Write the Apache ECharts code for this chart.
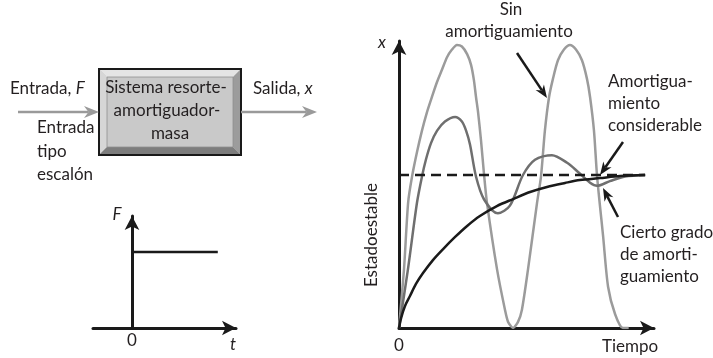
<!DOCTYPE html>
<html>
<head>
<meta charset="utf-8">
<script src="https://cdn.jsdelivr.net/npm/echarts@6/dist/echarts.min.js"></script>
<style>
  html, body { margin: 0; padding: 0; background: #fff; }
  #chart { width: 713px; height: 358px; }
</style>
</head>
<body>
<div id="chart"></div>
<script>
// Respuesta de un sistema resorte-amortiguador-masa a una entrada escalón.
// Unidades: tiempo arbitrario, desplazamiento relativo al estado estable (= 1).

const sinAmortiguamiento = [
  [0, 0], [0.19, 0.38], [0.35, 0.82], [0.50, 0.99], [0.69, 1.15], [0.88, 1.29],
  [1.07, 1.41], [1.26, 1.51], [1.46, 1.61], [1.65, 1.69], [1.84, 1.77], [2.03, 1.82],
  [2.22, 1.85], [2.41, 1.84], [2.61, 1.79], [2.76, 1.72], [2.87, 1.62], [2.95, 1.51],
  [3.03, 1.41], [3.14, 1.23], [3.26, 1.00], [3.37, 0.82], [3.76, 0.38], [4.06, 0.12],
  [4.18, 0.04], [4.37, 0], [4.56, 0.04], [4.71, 0.12], [4.94, 0.38], [5.29, 0.82],
  [5.44, 0.99], [5.59, 1.29], [5.75, 1.51], [5.90, 1.63], [6.09, 1.75], [6.32, 1.82],
  [6.55, 1.85], [6.78, 1.82], [7.01, 1.75], [7.20, 1.63], [7.32, 1.51], [7.47, 1.29],
  [7.59, 0.99], [7.82, 0.60], [8.01, 0.27], [8.28, 0.09], [8.58, 0], [8.80, 0]
];

const ciertoGrado = [
  [0, 0], [0.34, 0.38], [0.69, 0.82], [0.88, 0.99], [1.03, 1.10], [1.23, 1.21],
  [1.46, 1.29], [1.76, 1.35], [2.15, 1.38], [2.41, 1.35], [2.57, 1.29], [2.72, 1.20],
  [2.95, 0.99], [3.26, 0.84], [3.79, 0.75], [4.25, 0.80], [4.75, 1.00], [5.21, 1.10],
  [5.86, 1.13], [6.44, 1.08], [6.86, 1.02], [7.32, 0.95], [7.59, 0.93], [8.08, 0.96],
  [8.66, 0.99], [9.43, 1.00]
];

const considerable = [
  [0, 0], [0.08, 0.065], [0.23, 0.144], [0.42, 0.209], [0.65, 0.288], [0.92, 0.359],
  [1.30, 0.444], [1.69, 0.516], [2.15, 0.595], [2.61, 0.667], [3.10, 0.732],
  [3.75, 0.797], [4.37, 0.843], [5.02, 0.889], [5.67, 0.922], [6.36, 0.948],
  [6.93, 0.967], [7.70, 0.980], [8.47, 0.993], [9.43, 1.00]
];

const estadoEstable = [[0, 1], [9.43, 1]];

// Entrada escalón F(t)
const escalon = [[0, 1], [2.2, 1]];

// Marcas de eje
const ticksTiempo = [0];
const ticksT = [0];

const INK = '#231f20';
const FONT = 'Lato, "Open Sans", sans-serif';
const FS = 17;

function txt(x, y, text, opts) {
  opts = opts || {};
  return {
    type: 'text', x: x, y: y, rotation: opts.rotation || 0, z: 50,
    style: {
      text: text, fill: INK,
      font: (opts.italic ? 'italic ' : '') + FS + 'px ' + FONT,
      align: opts.align || 'left', textAlign: opts.align || 'left',
      verticalAlign: 'middle', textVerticalAlign: 'middle',
      rich: opts.rich
    }
  };
}

// Flecha con punta dentada (de x1,y1 hacia x2,y2)
function arrow(x1, y1, x2, y2, color, width, len, half) {
  const dx = x2 - x1, dy = y2 - y1;
  const d = Math.sqrt(dx * dx + dy * dy);
  const ux = dx / d, uy = dy / d, px = -uy, py = ux;
  const bx = x2 - ux * len, by = y2 - uy * len;
  const nx = x2 - ux * len * 0.7, ny = y2 - uy * len * 0.7;
  return [
    { type: 'line', z: 40, shape: { x1: x1, y1: y1, x2: nx, y2: ny },
      style: { stroke: color, lineWidth: width } },
    { type: 'polygon', z: 41,
      shape: { points: [[x2, y2], [bx + px * half, by + py * half], [nx, ny], [bx - px * half, by - py * half]] },
      style: { fill: color } }
  ];
}

const richF = {
  n: { fontFamily: FONT, fontSize: FS, color: INK },
  i: { fontFamily: FONT, fontSize: FS, fontStyle: 'italic', color: INK }
};

// Bloque con bisel
const bx0 = 99, by0 = 69, bx1 = 241, by1 = 155, bv = 8;
const bloque = [
  { type: 'rect', z: 10, shape: { x: bx0, y: by0, width: bx1 - bx0, height: by1 - by0 },
    style: { fill: '#c9c9c9', stroke: '#1a1a1a', lineWidth: 2 } },
  { type: 'polygon', z: 11, shape: { points: [[bx0 + 1, by0 + 1], [bx1 - 1, by0 + 1], [bx1 - bv, by0 + bv], [bx0 + bv, by0 + bv]] },
    style: { fill: '#e4e4e4' } },
  { type: 'polygon', z: 11, shape: { points: [[bx0 + 1, by0 + 1], [bx0 + bv, by0 + bv], [bx0 + bv, by1 - bv], [bx0 + 1, by1 - 1]] },
    style: { fill: '#d6d6d6' } },
  { type: 'polygon', z: 11, shape: { points: [[bx0 + 1, by1 - 1], [bx0 + bv, by1 - bv], [bx1 - bv, by1 - bv], [bx1 - 1, by1 - 1]] },
    style: { fill: '#7d7d7d' } },
  { type: 'polygon', z: 11, shape: { points: [[bx1 - 1, by0 + 1], [bx1 - 1, by1 - 1], [bx1 - bv, by1 - bv], [bx1 - bv, by0 + bv]] },
    style: { fill: '#9c9c9c' } },
  { type: 'rect', z: 12, shape: { x: bx0 + bv, y: by0 + bv, width: bx1 - bx0 - 2 * bv, height: by1 - by0 - 2 * bv },
    style: { fill: '#c9c9c9', stroke: '#8f8f8f', lineWidth: 0.8 } }
];

const graphics = [].concat(
  bloque,
  arrow(18, 112, 99, 112, '#9a9a9a', 2.5, 15, 6),
  arrow(241, 112, 317, 112, '#9a9a9a', 2.5, 15, 6),
  [
    txt(10, 89, '{n|Entrada, }{i|F}', { rich: richF }),
    txt(253, 89, '{n|Salida, }{i|x}', { rich: richF }),
    txt(37, 128, 'Entrada'),
    txt(37, 152, 'tipo'),
    txt(37, 175, 'escalón'),
    txt(166, 88, 'Sistema resorte-', { align: 'center' }),
    txt(167, 111, 'amortiguador-', { align: 'center' }),
    txt(170, 134, 'masa', { align: 'center' }),
    txt(117, 215, 'F', { italic: true, align: 'center' }),
    txt(233, 345, 't', { italic: true, align: 'center' }),
    txt(382, 43, 'x', { italic: true, align: 'center' }),
    txt(372, 235, 'Estadoestable', { align: 'center', rotation: Math.PI / 2 }),
    txt(630, 347, 'Tiempo', { align: 'center' }),
    txt(511, 10, 'Sin', { align: 'center' }),
    txt(509, 32, 'amortiguamiento', { align: 'center' }),
    txt(608, 82, 'Amortigua-'),
    txt(608, 104, 'miento'),
    txt(608, 126, 'considerable'),
    txt(620, 233, 'Cierto grado'),
    txt(620, 255, 'de amorti-'),
    txt(620, 277, 'guamiento')
  ],
  arrow(517, 53, 547, 98, '#1a1a1a', 2.5, 13, 5),
  arrow(623, 142, 600, 175, '#1a1a1a', 2.5, 13, 5),
  arrow(618, 217, 603, 188, '#1a1a1a', 2.5, 13, 5)
);

function axisLineStyle() {
  return { show: true, symbol: ['none', 'arrow'], symbolSize: [11, 14],
    lineStyle: { color: '#1a1a1a', width: 3 } };
}

const chart = echarts.init(document.getElementById('chart'), null, { renderer: 'canvas' });

chart.setOption({
  animation: false,
  backgroundColor: '#ffffff',
  grid: [
    { left: 399, top: 41, width: 255, height: 287 },
    { left: 93, top: 216, width: 143, height: 112 }
  ],
  xAxis: [
    { type: 'value', gridIndex: 0, min: 0, max: 9.77, axisLine: axisLineStyle(),
      axisTick: { show: false }, splitLine: { show: false },
      axisLabel: { show: true, customValues: ticksTiempo, margin: 9, color: INK,
        fontFamily: FONT, fontSize: FS } },
    { type: 'value', gridIndex: 1, min: -1, max: 2.667, axisLine: axisLineStyle(),
      axisTick: { show: false }, splitLine: { show: false },
      axisLabel: { show: true, customValues: ticksT, margin: 4, color: INK,
        fontFamily: FONT, fontSize: FS } }
  ],
  yAxis: [
    { type: 'value', gridIndex: 0, min: 0, max: 1.876, axisLine: axisLineStyle(),
      axisTick: { show: false }, splitLine: { show: false }, axisLabel: { show: false } },
    { type: 'value', gridIndex: 1, min: 0, max: 1.474, axisLine: Object.assign(axisLineStyle(), { onZero: true }),
      axisTick: { show: false }, splitLine: { show: false }, axisLabel: { show: false } }
  ],
  series: [
    { name: 'Sin amortiguamiento', type: 'line', xAxisIndex: 0, yAxisIndex: 0,
      data: sinAmortiguamiento, smooth: 0.25, symbol: 'none', z: 2,
      lineStyle: { color: '#9b9b9b', width: 2.5 } },
    { name: 'Cierto grado de amortiguamiento', type: 'line', xAxisIndex: 0, yAxisIndex: 0,
      data: ciertoGrado, smooth: 0.3, symbol: 'none', z: 3,
      lineStyle: { color: '#6f6f6f', width: 2.5 } },
    { name: 'Amortiguamiento considerable', type: 'line', xAxisIndex: 0, yAxisIndex: 0,
      data: considerable, smooth: 0.3, symbol: 'none', z: 4,
      lineStyle: { color: '#1a1a1a', width: 2.5 } },
    { name: 'Estado estable', type: 'line', xAxisIndex: 0, yAxisIndex: 0,
      data: estadoEstable, symbol: 'none', z: 5,
      lineStyle: { color: '#1a1a1a', width: 2.5, type: [10, 6] } },
    { name: 'F', type: 'line', xAxisIndex: 1, yAxisIndex: 1,
      data: escalon, symbol: 'none', z: 2,
      lineStyle: { color: '#1a1a1a', width: 2.5 } }
  ],
  graphic: { elements: graphics }
});
</script>
</body>
</html>
